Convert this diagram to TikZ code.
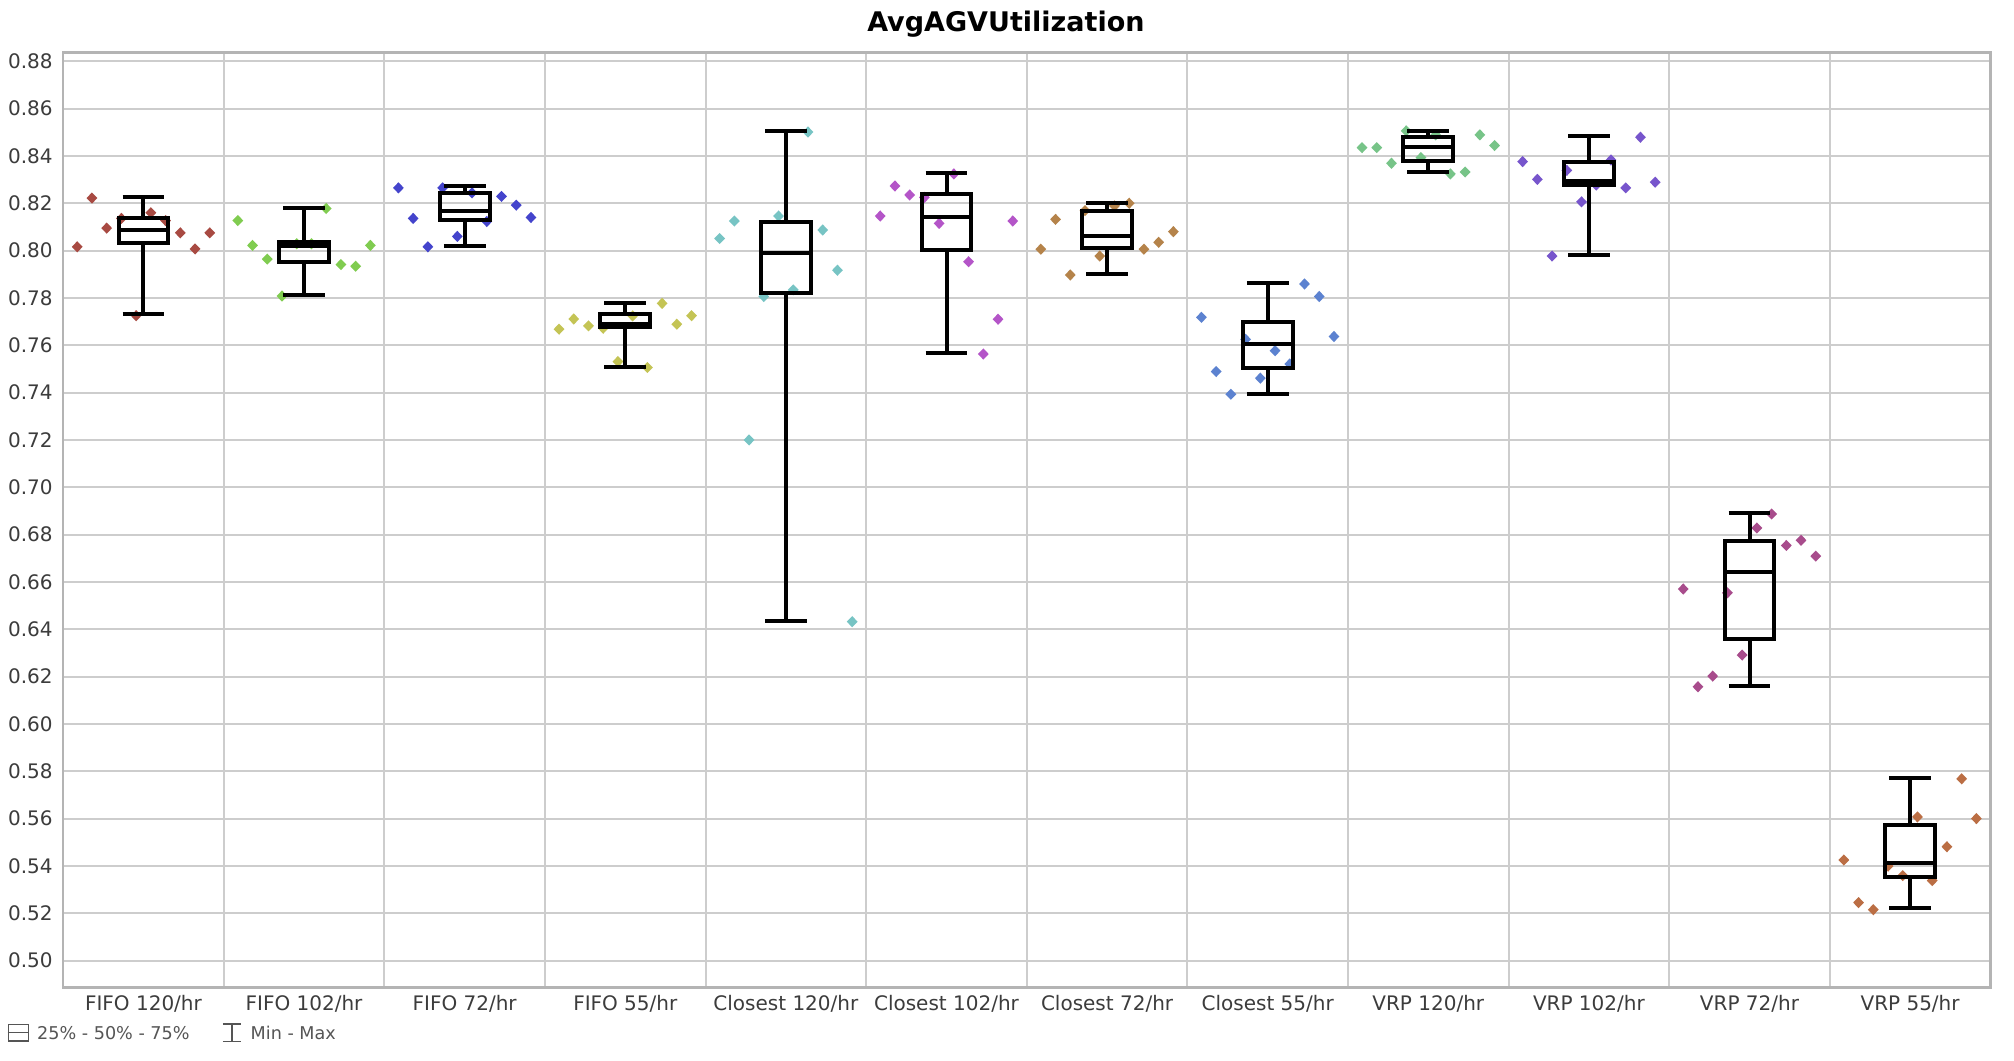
\documentclass[tikz,border=0pt]{standalone}
\usepackage{fontspec}
\setmainfont{DejaVu Sans}
\usepackage{xcolor}
\usepackage{tikz}
\usetikzlibrary{positioning}

\definecolor{grille}{HTML}{CDCDCD}
\definecolor{cadre}{HTML}{B4B4B4}
\definecolor{texte}{HTML}{3C3C3C}
\definecolor{legcoul}{HTML}{555555}
\definecolor{c1}{HTML}{A84A42}
\definecolor{c2}{HTML}{80CC50}
\definecolor{c3}{HTML}{4444CC}
\definecolor{c4}{HTML}{C4C455}
\definecolor{c5}{HTML}{77C4C4}
\definecolor{c6}{HTML}{B455C8}
\definecolor{c7}{HTML}{B5834A}
\definecolor{c8}{HTML}{5C82D0}
\definecolor{c9}{HTML}{77C488}
\definecolor{c10}{HTML}{7755CC}
\definecolor{c11}{HTML}{A84C8C}
\definecolor{c12}{HTML}{BB6E44}

\tikzset{
  grilleligne/.style={draw=grille, line width=1pt},
  cadreligne/.style={draw=cadre, line width=1.2pt},
  boite/.style={draw=black, line width=2pt},
  etiq/.style={text=texte, inner sep=0pt, font=\fontsize{10}{12}\selectfont},
  titre/.style={text=black, inner sep=0pt, font=\bfseries\fontsize{13.5}{16}\selectfont},
  legtexte/.style={text=legcoul, inner sep=0pt, font=\fontsize{8.8}{10}\selectfont},
  losange/.pic={\fill (0,2.8pt) -- (2.7pt,0) -- (0,-2.8pt) -- (-2.7pt,0) -- cycle;}
}

\begin{document}
\begin{tikzpicture}[x=80.3pt, y=11.833pt]

% Cadre de l'image
\useasboundingbox (-0.3935,45.76) rectangle (12.147,90.59);
\fill[white] (-0.3935,45.76) rectangle (12.147,90.59);

% Titre
\node[titre, anchor=base] (titre) at (5.87,89.25) {AvgAGVUtilization};

% Grille horizontale et graduations
\foreach \g/\lab in {50/0.50,52/0.52,54/0.54,56/0.56,58/0.58,60/0.60,62/0.62,64/0.64,66/0.66,68/0.68,70/0.70,72/0.72,74/0.74,76/0.76,78/0.78,80/0.80,82/0.82,84/0.84,86/0.86,88/0.88}{
  \draw[grilleligne] (0,\g) -- (12,\g);
  \node[etiq, anchor=east] (y\g) at (-0.0635,\g) {\lab};
}

% Separations verticales
\foreach \c in {1,...,11}
  \draw[grilleligne] (\c,48.87) -- (\c,88.37);
\draw[cadreligne] (0,48.87) rectangle (12,88.37);

% Points (10 essais par scenario)
\foreach \col/\coul/\pts in {
  1/c1/{80.16,82.22,80.95,81.36,77.25,81.60,81.27,80.75,80.07,80.75},
  2/c2/{81.27,80.22,79.64,78.08,80.29,80.29,81.78,79.41,79.34,80.22},
  3/c3/{82.65,81.36,80.16,82.65,80.60,82.44,81.23,82.29,81.92,81.40},
  4/c4/{76.68,77.11,76.82,76.72,75.31,77.24,75.06,77.77,76.89,77.25},
  5/c5/{80.51,81.25,72.00,78.06,81.46,78.34,85.01,80.87,79.17,64.32},
  6/c6/{81.46,82.73,82.35,82.25,81.15,83.24,79.53,75.63,77.10,81.25},
  7/c7/{80.06,81.32,78.97,81.69,79.77,81.89,82.00,80.06,80.35,80.80},
  8/c8/{77.18,74.89,73.93,76.25,74.61,75.77,75.21,78.59,78.06,76.37},
  9/c9/{84.35,84.35,83.69,85.06,83.93,84.89,83.24,83.32,84.89,84.44},
  10/c10/{83.76,83.01,79.77,83.39,82.06,82.77,83.83,82.65,84.79,82.89},
  11/c11/{65.70,61.57,62.02,65.54,62.91,68.28,68.87,67.54,67.76,67.09},
  12/c12/{54.25,52.45,52.15,53.99,53.59,56.07,53.38,54.81,57.68,56.00}}{
  \foreach \v [count=\k from 0] in \pts
    \pic[color=\coul] at ({\col-0.5+(\k-4.5)*0.0917},\v) {losange};
}

% Boites a moustaches : min, Q1, mediane, Q3, max
\foreach \col/\wmin/\qa/\med/\qc/\wmax in {
  1/77.31/80.31/80.89/81.38/82.26, 2/78.13/79.50/80.19/80.36/81.82,
  3/80.19/81.29/81.68/82.44/82.71, 4/75.08/76.76/76.88/77.30/77.80,
  5/64.36/78.20/79.89/81.21/85.06, 6/75.66/80.03/81.44/82.40/83.28,
  7/79.00/80.11/80.62/81.66/82.03, 8/73.96/75.03/76.04/77.00/78.62,
  9/83.30/83.79/84.39/84.79/85.07, 10/79.80/82.76/82.93/83.73/84.85,
  11/61.60/63.59/66.43/67.72/68.90, 12/52.21/53.54/54.12/55.73/57.73}{
  \draw[boite] (\col-0.5,\qc) -- (\col-0.5,\wmax); % moustache haute
  \draw[boite] (\col-0.5,\qa) -- (\col-0.5,\wmin); % moustache basse
  \draw[boite] (\col-0.63,\wmax) -- (\col-0.37,\wmax);
  \draw[boite] (\col-0.63,\wmin) -- (\col-0.37,\wmin);
  \draw[boite] (\col-0.655,\qa) rectangle (\col-0.345,\qc); % boite
  \draw[boite] (\col-0.655,\med) -- (\col-0.345,\med); % mediane
}

% Noms des scenarios
\foreach \c/\nom in {1/FIFO 120,2/FIFO 102,3/FIFO 72,4/FIFO 55,5/Closest 120,6/Closest 102,7/Closest 72,8/Closest 55,9/VRP 120,10/VRP 102,11/VRP 72,12/VRP 55}
  \node[etiq, anchor=base] (x\c) at (\c-0.5,47.91) {\nom/hr};

% Legende
\node[draw=legcoul, line width=0.7pt, minimum width=10pt, minimum height=8.3pt, inner sep=0pt] (legboite) at (-0.2796,46.955) {};
\draw[legcoul, line width=0.7pt] (legboite.west) -- (legboite.east);
\node[legtexte, right=3.9pt of legboite] (leg1) {25\% - 50\% - 75\%};
\node[minimum width=8.7pt, minimum height=8.3pt, inner sep=0pt] (legmm) at (1.051,46.955) {};
\draw[legcoul, line width=0.7pt] (legmm.north west) -- (legmm.north east)
  (legmm.north) -- (legmm.south) (legmm.south west) -- (legmm.south east);
\node[legtexte, right=4.6pt of legmm] (leg2) {Min - Max};

\end{tikzpicture}
\end{document}
